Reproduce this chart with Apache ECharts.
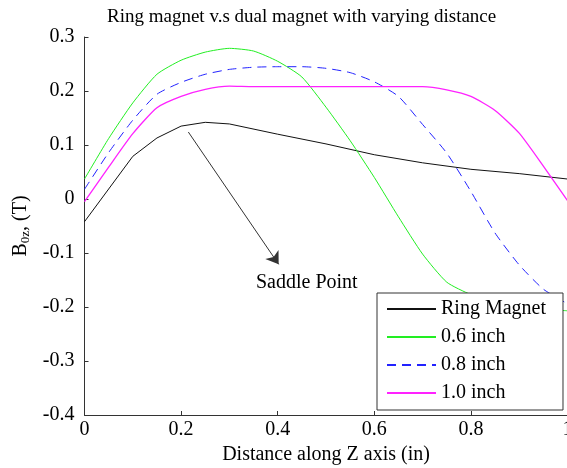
<!DOCTYPE html>
<html>
<head>
<meta charset="utf-8">
<script src="https://cdn.jsdelivr.net/npm/echarts@6/dist/echarts.min.js"></script>
<style>
html,body{margin:0;padding:0;background:#fff;}
#chart{width:567px;height:468px;}
</style>
</head>
<body>
<div id="chart"></div>
<script>
var titleText = 'Ring magnet v.s dual magnet with varying distance';
var seriesNames = ['Ring Magnet', '0.6 inch', '0.8 inch', '1.0 inch'];

var ringX = [0, 0.1, 0.15, 0.2, 0.25, 0.3, 0.4, 0.5, 0.6, 0.7, 0.8, 0.9, 1.0];
var ringY = [-0.042, 0.079, 0.113, 0.135, 0.142, 0.139, 0.120, 0.102, 0.082, 0.067, 0.055, 0.047, 0.037];

var distX = [0, 0.05, 0.1, 0.15, 0.2, 0.25, 0.3, 0.35, 0.4, 0.45, 0.5, 0.55, 0.6, 0.65, 0.7, 0.75, 0.8, 0.85, 0.9, 0.95, 1.0];
var d06Y = [0.037, 0.112, 0.178, 0.231, 0.257, 0.272, 0.279, 0.274, 0.255, 0.226, 0.170, 0.108, 0.040, -0.033, -0.102, -0.154, -0.177, -0.190, -0.199, -0.204, -0.207];
var d08Y = [0.018, 0.086, 0.146, 0.194, 0.216, 0.231, 0.240, 0.244, 0.245, 0.245, 0.242, 0.234, 0.217, 0.190, 0.138, 0.085, 0.014, -0.063, -0.122, -0.167, -0.194];
var d10Y = [-0.005, 0.059, 0.121, 0.169, 0.190, 0.203, 0.209, 0.208, 0.208, 0.208, 0.208, 0.208, 0.208, 0.208, 0.208, 0.202, 0.190, 0.164, 0.122, 0.061, -0.003];

var arrowFrom = [0.215, 0.124];
var arrowTo = [0.402, -0.121];
var noteText = 'Saddle Point';
var notePos = [0.355, -0.155];

function pairs(xs, ys) { return xs.map(function (x, i) { return [x, ys[i]]; }); }

var FONT = 'Liberation Serif, Times New Roman, serif';
var chart = echarts.init(document.getElementById('chart'), null, {renderer: 'canvas'});
chart.setOption({
  animation: false,
  backgroundColor: '#fff',
  title: {
    text: titleText, left: 102, top: 3,
    textStyle: {fontFamily: FONT, fontSize: 19, fontWeight: 'normal', color: '#000'}
  },
  grid: {left: 84.5, right: -0.5, top: 37, bottom: 53, containLabel: false, outerBoundsMode: 'none'},
  legend: {
    orient: 'vertical', left: 377, top: 293,
    padding: [6, 17, 7, 9], itemGap: 8,
    itemWidth: 49, itemHeight: 14,
    backgroundColor: '#fff', borderColor: '#333', borderWidth: 1,
    itemStyle: {opacity: 0, borderWidth: 0},
    textStyle: {fontFamily: FONT, fontSize: 20, color: '#000'},
    data: seriesNames
  },
  xAxis: {
    type: 'value', min: 0, max: 1, interval: 0.2,
    name: 'Distance along Z axis (in)', nameLocation: 'middle', nameGap: 27,
    nameTextStyle: {fontFamily: FONT, fontSize: 20, color: '#000'},
    axisLine: {show: true, onZero: false, lineStyle: {color: '#333', width: 1}},
    axisTick: {inside: true, length: 4, lineStyle: {color: '#333'}},
    axisLabel: {fontFamily: FONT, fontSize: 20, color: '#000', margin: 5},
    splitLine: {show: false}
  },
  yAxis: {
    type: 'value', min: -0.4, max: 0.3, interval: 0.1,
    name: '{b|B}{s|0z}{b|, (T)}', nameLocation: 'middle', nameGap: 52,
    nameTextStyle: {
      fontFamily: FONT, fontSize: 20, color: '#000',
      rich: {
        b: {fontFamily: FONT, fontSize: 20, color: '#000'},
        s: {fontFamily: FONT, fontSize: 13, color: '#000', verticalAlign: 'bottom', padding: [10, 0, 0, 0]}
      }
    },
    axisLine: {show: true, onZero: false, lineStyle: {color: '#333', width: 1}},
    axisTick: {inside: true, length: 4, lineStyle: {color: '#333'}},
    axisLabel: {fontFamily: FONT, fontSize: 20, color: '#000', margin: 10,
      formatter: function (v) { return (Math.round(v * 10) / 10).toString(); }},
    splitLine: {show: false}
  },
  series: [
    {
      name: seriesNames[0], type: 'line', symbol: 'none', data: pairs(ringX, ringY),
      lineStyle: {color: '#111', width: 1}, itemStyle: {color: '#111'},
      markLine: {
        silent: true, symbol: ['none', 'arrow'], symbolSize: 12,
        lineStyle: {color: '#333', width: 1, type: 'solid'},
        itemStyle: {color: '#000'},
        label: {show: false},
        data: [[{coord: arrowFrom}, {coord: arrowTo}]]
      },
      markPoint: {
        silent: true, symbol: 'circle', symbolSize: 0,
        label: {show: true, position: 'right', distance: 0, formatter: noteText,
          fontFamily: FONT, fontSize: 20, color: '#000'},
        data: [{coord: notePos}]
      }
    },
    {
      name: seriesNames[1], type: 'line', symbol: 'none', smooth: 0.2, data: pairs(distX, d06Y),
      lineStyle: {color: '#22ee22', width: 1}, itemStyle: {color: '#22ee22'}
    },
    {
      name: seriesNames[2], type: 'line', symbol: 'none', smooth: 0.2, data: pairs(distX, d08Y),
      lineStyle: {color: '#2222ff', width: 1, type: [9, 6]}, itemStyle: {color: '#2222ff'}
    },
    {
      name: seriesNames[3], type: 'line', symbol: 'none', smooth: 0.2, data: pairs(distX, d10Y),
      lineStyle: {color: '#ff22ff', width: 1.3}, itemStyle: {color: '#ff22ff'}
    }
  ]
});
</script>
</body>
</html>
